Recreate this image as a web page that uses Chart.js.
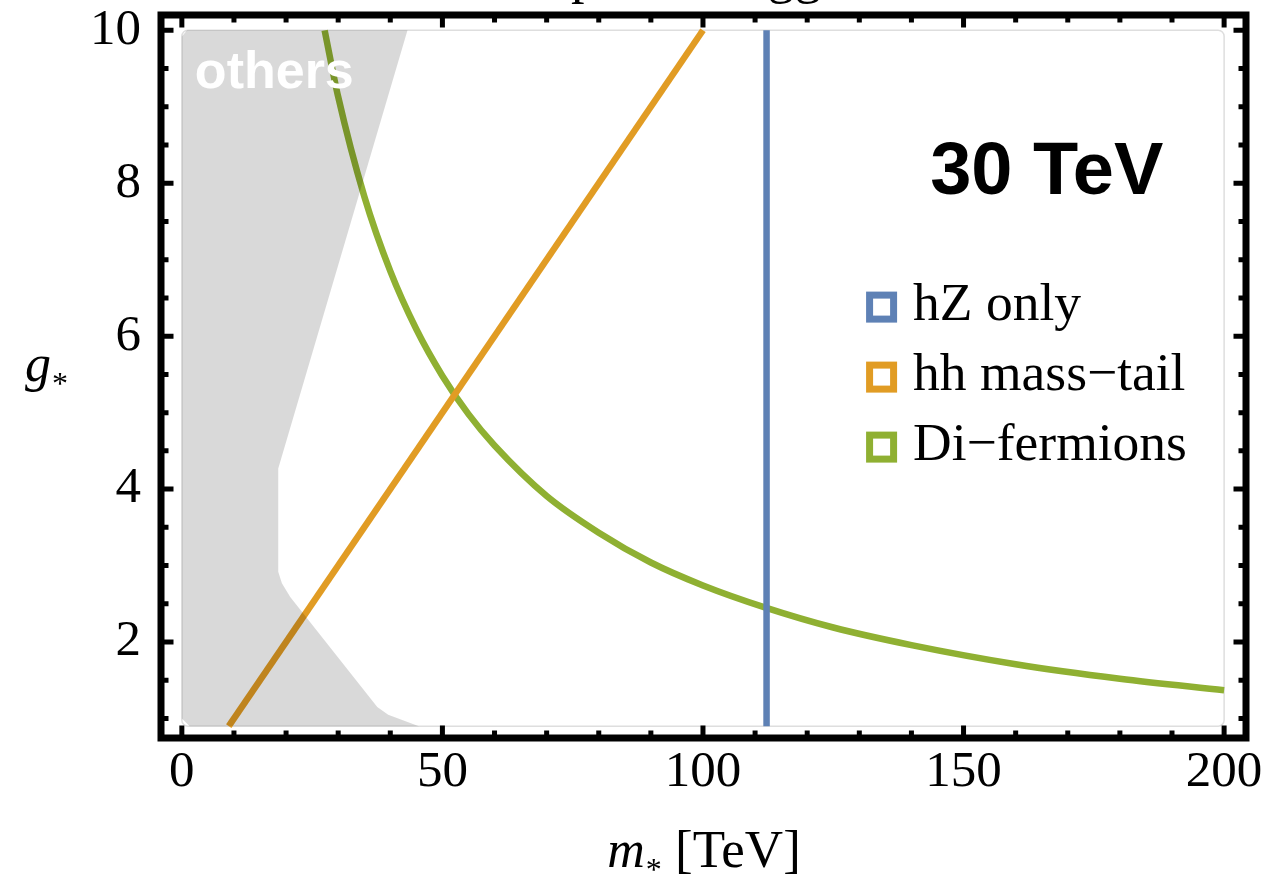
<!DOCTYPE html>
<html>
<head>
<meta charset="utf-8">
<script src="https://cdn.jsdelivr.net/npm/chart.js@4.4.0/dist/chart.umd.min.js"></script>
<style>
  html, body { margin: 0; padding: 0; background: #fff; }
  #wrap { width: 1272px; height: 874px; }
</style>
</head>
<body>
<div id="wrap"><canvas id="chart" width="1272" height="874"></canvas></div>
<script>
// m* [TeV] vs g*
const seriesNames = ['hZ only', 'hh mass\u2212tail', 'Di\u2212fermions'];
const seriesColors = ['#5e81b5', '#e19c24', '#8fb032'];

const hzMass = [112.2, 112.2];
const hzCoupling = [0.9, 10];

const hhMass = [9, 100];
const hhCoupling = [0.9, 10];

const difMass = [27.4, 30, 35, 40, 45, 50, 55, 60, 70, 80, 90, 100, 112, 125, 140, 160, 180, 200];
const difCoupling = [10, 9.13, 7.83, 6.85, 6.09, 5.48, 4.98, 4.57, 3.91, 3.43, 3.04, 2.74, 2.45, 2.19, 1.96, 1.71, 1.52, 1.37];

// grey "others" excluded region (outline)
const othersMass = [0, 1.0, 43.3, 18.5, 18.5, 19.2, 20.8, 37.5, 39.6, 45.5, 1.5, 0];
const othersCoupling = [9.92, 10, 10, 4.27, 2.92, 2.77, 2.59, 1.15, 1.05, 0.9, 0.9, 1.0];

const xTickLabels = [0, 50, 100, 150, 200];
const yTickLabels = [2, 4, 6, 8, 10];
const xMinorStep = 10;
const yMinorStep = 0.5;

const serif = '"Liberation Serif", "Times New Roman", serif';
const sans = '"Liberation Sans", Arial, sans-serif';

const toPoints = (xs, ys) => xs.map((v, i) => ({ x: v, y: ys[i] }));

const framePlugin = {
  id: 'frame',
  beforeDatasetsDraw(chart) {
    const { ctx, scales: { x, y } } = chart;
    const l = x.getPixelForValue(0), r = x.getPixelForValue(200);
    const t = y.getPixelForValue(10), b = y.getPixelForValue(0.9);
    ctx.save();
    ctx.strokeStyle = '#dedede';
    ctx.lineWidth = 1.5;
    ctx.beginPath();
    ctx.roundRect(l, t, r - l, b - t, 6);
    ctx.stroke();
    ctx.restore();
  },
  afterDatasetsDraw(chart) {
    const { ctx, chartArea: a, scales: { x, y } } = chart;
    ctx.save();

    ctx.fillStyle = '#fff';
    ctx.font = 'bold 52px ' + sans;
    ctx.textBaseline = 'alphabetic';
    ctx.textAlign = 'left';
    ctx.fillText('others', x.getPixelForValue(2.5), y.getPixelForValue(9.24));

    ctx.fillStyle = '#000';
    ctx.font = 'bold 74px ' + sans;
    ctx.fillText('30 TeV', x.getPixelForValue(143.6), y.getPixelForValue(7.86));

    // legend
    const lx = x.getPixelForValue(131.3);
    const ly = y.getPixelForValue(6.38);
    ctx.font = '53.5px ' + serif;
    ctx.lineWidth = 7;
    seriesNames.forEach((name, i) => {
      const cy = ly + i * 70;
      ctx.fillStyle = '#fff';
      ctx.fillRect(lx + 3.5, cy - 12, 24, 24);
      ctx.strokeStyle = seriesColors[i];
      ctx.strokeRect(lx + 3.5, cy - 12, 24, 24);
      ctx.fillStyle = '#000';
      ctx.fillText(name, lx + 47, cy + 13);
    });

    // frame and inward ticks
    ctx.strokeStyle = '#000';
    ctx.lineWidth = 7;
    ctx.strokeRect(a.left, a.top, a.right - a.left, a.bottom - a.top);
    ctx.lineWidth = 5;
    ctx.beginPath();
    for (let v = 0; v <= 200; v += xMinorStep) {
      const px = x.getPixelForValue(v);
      const len = xTickLabels.includes(v) ? 12.5 : 7.5;
      ctx.moveTo(px, a.bottom); ctx.lineTo(px, a.bottom - len);
      ctx.moveTo(px, a.top); ctx.lineTo(px, a.top + len);
    }
    for (let v = 1; v <= 10; v += yMinorStep) {
      const py = y.getPixelForValue(v);
      const len = yTickLabels.includes(v) ? 12.5 : 7.5;
      ctx.moveTo(a.left, py); ctx.lineTo(a.left + len, py);
      ctx.moveTo(a.right, py); ctx.lineTo(a.right - len, py);
    }
    ctx.stroke();
    ctx.restore();
  },
  afterDraw(chart) {
    const { ctx, chartArea: a } = chart;
    ctx.save();
    ctx.fillStyle = '#000';
    ctx.textBaseline = 'alphabetic';
    ctx.textAlign = 'left';

    // title, mostly cut off above the canvas
    ctx.font = '54px ' + serif;
    ctx.fillText('Composite Higgs', 466, -8);

    // x axis title: m* [TeV]
    const cx = (a.left + a.right) / 2;
    ctx.font = 'italic 52px ' + serif;
    const wm = ctx.measureText('m').width;
    ctx.font = '32px ' + serif;
    const ws = ctx.measureText('*').width;
    ctx.font = '53px ' + serif;
    const wt = ctx.measureText(' [TeV]').width;
    let px = cx - (wm + ws + wt) / 2;
    const base = 867;
    ctx.font = 'italic 52px ' + serif;
    ctx.fillText('m', px, base);
    px += wm + 1;
    ctx.font = '32px ' + serif;
    ctx.fillText('*', px, base + 13);
    px += ws;
    ctx.font = '53px ' + serif;
    ctx.fillText(' [TeV]', px, base);

    // y axis title: g*
    const gy = (a.top + a.bottom) / 2 + 4;
    ctx.font = 'italic 52px ' + serif;
    ctx.fillText('g', 25, gy);
    const wg = ctx.measureText('g').width;
    ctx.font = '32px ' + serif;
    ctx.fillText('*', 25 + wg + 1, gy + 13);
    ctx.restore();
  }
};

const tickFont = { family: serif, size: 51 };

new Chart(document.getElementById('chart'), {
  type: 'line',
  data: {
    datasets: [
      {
        label: 'others',
        data: toPoints(othersMass, othersCoupling),
        backgroundColor: 'rgba(0, 0, 0, 0.15)',
        borderColor: 'transparent',
        borderWidth: 0,
        fill: 'shape',
        pointRadius: 0,
        tension: 0
      },
      {
        label: seriesNames[0],
        data: toPoints(hzMass, hzCoupling),
        borderColor: seriesColors[0],
        borderWidth: 6.5,
        pointRadius: 0,
        fill: false
      },
      {
        label: seriesNames[1],
        data: toPoints(hhMass, hhCoupling),
        borderColor: seriesColors[1],
        borderWidth: 6.5,
        pointRadius: 0,
        fill: false
      },
      {
        label: seriesNames[2],
        data: toPoints(difMass, difCoupling),
        borderColor: seriesColors[2],
        borderWidth: 6.5,
        pointRadius: 0,
        cubicInterpolationMode: 'monotone',
        fill: false
      }
    ]
  },
  options: {
    responsive: false,
    animation: false,
    layout: { padding: { top: 15, right: 26, left: 0, bottom: 0 } },
    scales: {
      x: {
        type: 'linear',
        min: -4,
        max: 204.2,
        grid: { display: false, drawTicks: false, tickLength: 0 },
        border: { display: false },
        afterBuildTicks: (s) => { s.ticks = xTickLabels.map((v) => ({ value: v })); },
        afterFit: (s) => { s.height = 136; s.paddingLeft = 0; s.paddingRight = 0; },
        ticks: { padding: 4, color: '#000', font: tickFont, maxRotation: 0, autoSkip: false }
      },
      y: {
        type: 'linear',
        min: 0.745,
        max: 10.2,
        grid: { display: false, drawTicks: false, tickLength: 0 },
        border: { display: false },
        afterBuildTicks: (s) => { s.ticks = yTickLabels.map((v) => ({ value: v })); },
        afterFit: (s) => { s.width = 161; s.paddingTop = 0; s.paddingBottom = 0; },
        ticks: { padding: 20, color: '#000', font: tickFont, autoSkip: false }
      }
    },
    plugins: {
      legend: { display: false },
      tooltip: { enabled: false }
    }
  },
  plugins: [framePlugin]
});
</script>
</body>
</html>
